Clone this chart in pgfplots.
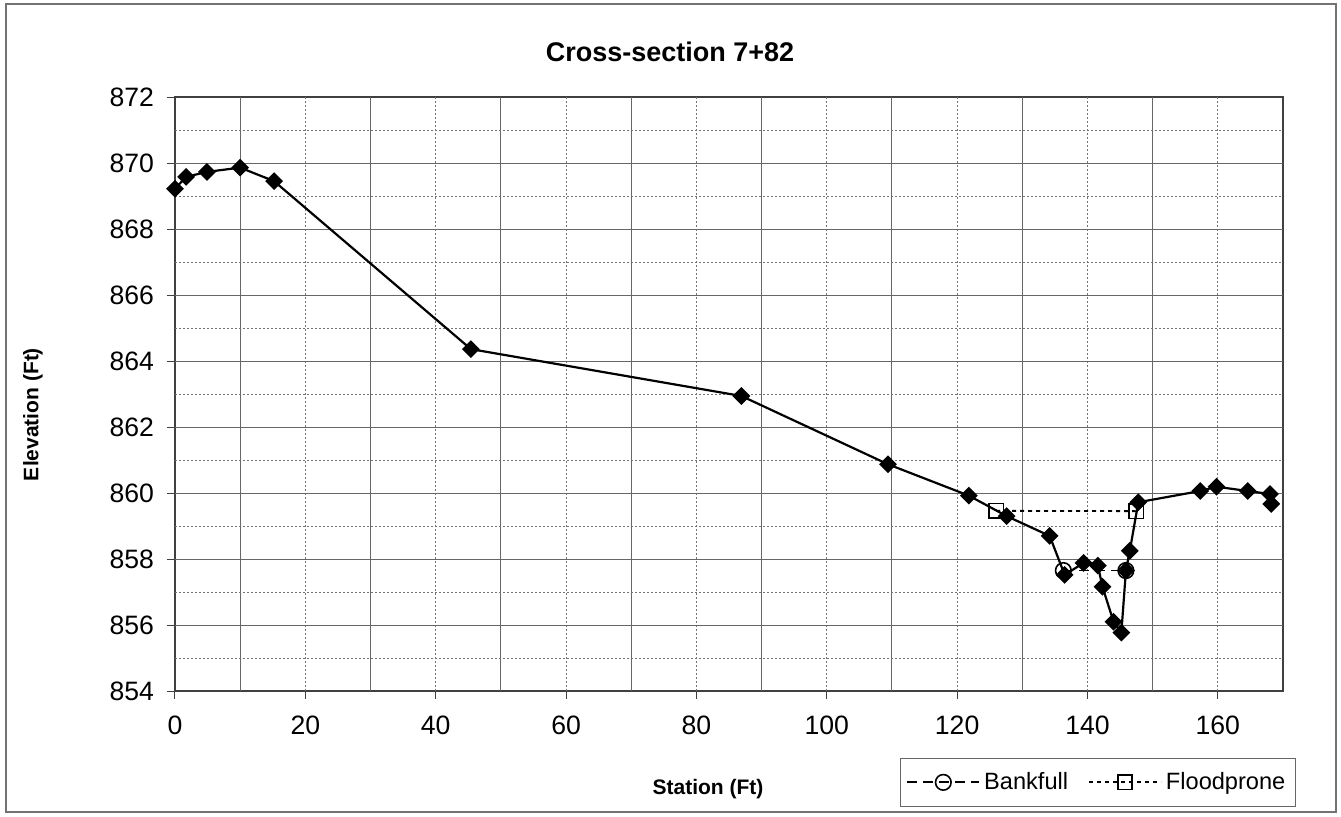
\documentclass[border=0pt]{standalone}
\usepackage{pgfplots}
\pgfplotsset{compat=1.18}
\usepackage{fontspec}
\setmainfont{Liberation Sans}

\begin{document}
\begin{tikzpicture}
\path[use as bounding box] (-87.5pt,-62.5pt) rectangle (583pt,345.5pt);
\draw[black!55, line width=0.6pt] (-84.5pt,-60.5pt) rectangle (580.5pt,343.5pt);
\begin{axis}[
  scale only axis, width=554pt, height=297pt,
  xmin=0, xmax=170, ymin=854, ymax=872,
  xtick={0,20,...,160}, ytick={854,856,...,872},
  xtick pos=bottom, ytick pos=left,
  tick align=outside, major tick length=4pt,
  tick style={black!75, line width=0.5pt},
  axis line style={black!75, line width=0.6pt},
  tick label style={font=\fontsize{13.3}{15}\selectfont},
  /pgf/number format/assume math mode=true,
  xticklabel style={yshift=-5pt},
  yticklabel style={xshift=-3pt},
  clip=false,
  legend columns=2,
  legend style={at={(1.0117,-0.1953)}, anchor=south east, draw=black!60, line width=0.6pt,
    font=\fontsize{11.8}{13}\selectfont, inner xsep=3pt, inner ysep=5pt,
    /tikz/every even column/.append style={column sep=8pt}},
  legend image code/.code={\draw[mark repeat=2,mark phase=2,#1] plot coordinates {(0pt,0pt)(18pt,0pt)(36pt,0pt)};},
]
% grid
\pgfplotsinvokeforeach{10,30,...,150}{\draw[black!60, line width=0.5pt] (axis cs:#1,854) -- (axis cs:#1,872);}
\pgfplotsinvokeforeach{20,40,...,160}{\draw[black!55, line width=0.5pt, dash pattern=on 1pt off 1pt] (axis cs:#1,854) -- (axis cs:#1,872);}
\pgfplotsinvokeforeach{856,858,...,870}{\draw[black!60, line width=0.5pt] (axis cs:0,#1) -- (axis cs:170,#1);}
\pgfplotsinvokeforeach{855,857,...,871}{\draw[black!55, line width=0.5pt, dash pattern=on 1pt off 1pt] (axis cs:0,#1) -- (axis cs:170,#1);}

\addplot[black, line width=0.9pt, dash pattern=on 5pt off 3pt, mark=o,
  mark options={solid, fill=white, line width=0.8pt}, mark size=3.9pt]
  coordinates {(136.3,857.65) (145.9,857.65)};
\addlegendentry{Bankfull}
\addplot[black, line width=0.9pt, dash pattern=on 2pt off 2pt, mark=square,
  mark options={solid, fill=white, line width=0.8pt}, mark size=3.6pt]
  coordinates {(126.0,859.46) (147.5,859.45)};
\addlegendentry{Floodprone}

\addplot[black, line width=1.1pt, mark=square*, mark size=2.6pt,
  mark options={rotate=45, solid}, forget plot] coordinates {
(0,869.22) (1.7,869.58) (4.9,869.73) (10.0,869.86) (15.2,869.45)
(45.4,864.36) (86.9,862.94) (109.4,860.87) (121.8,859.92) (127.6,859.30)
(134.2,858.70) (136.5,857.52) (139.4,857.88) (141.6,857.80) (142.3,857.16)
(144.0,856.10) (145.2,855.77) (145.9,857.65) (146.5,858.25) (147.8,859.72)
(157.3,860.06) (159.8,860.19) (164.6,860.06) (168.0,859.97) (168.2,859.67)
};
\end{axis}
\node[font=\bfseries\fontsize{13.5}{15}\selectfont] at (247.5pt,319.5pt) {Cross-section 7+82};
\node[font=\bfseries\fontsize{10.5}{12}\selectfont] at (266.5pt,-49pt) {Station (Ft)};
\node[rotate=90, font=\bfseries\fontsize{10.5}{12}\selectfont] at (-71pt,138.25pt) {Elevation (Ft)};
\end{tikzpicture}
\end{document}
